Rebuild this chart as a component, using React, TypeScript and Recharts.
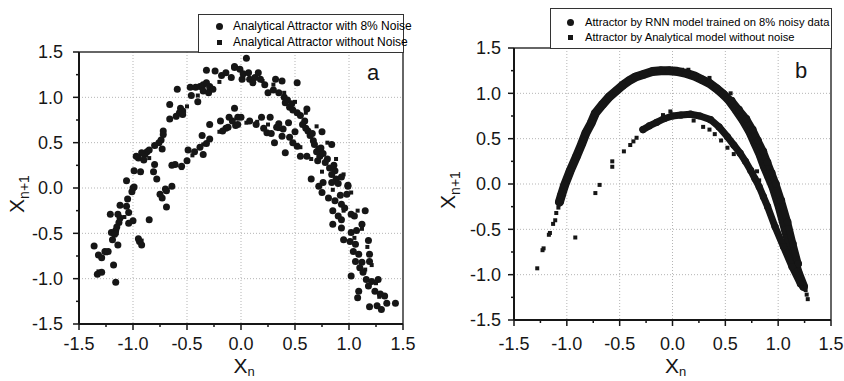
import React from 'react'
import {
  ScatterChart,
  Scatter,
  XAxis,
  YAxis,
  CartesianGrid,
  ReferenceLine,
} from 'recharts'

type Pt = [number, number]

// panel a, noisy attractor (circles)
const aNoisyUpperLeft: Pt[] = [
  [0.05, 1.43], [-0.32, 1.3], [-0.24, 1.29], [-0.18, 1.24], [-0.14, 1.27], [-0.06, 1.33],
  [-0.09, 1.22], [0.01, 1.2], [-0.47, 1.11], [-0.42, 1.11], [-0.38, 1.12], [-0.35, 1.14],
  [-0.32, 1.16], [-0.29, 1.12], [-0.35, 1.07], [-0.3, 1.05], [-0.26, 1.09], [-0.59, 1.09],
  [-0.4, 0.95], [-0.46, 1.02], [-0.66, 0.92], [-0.56, 0.88], [-0.54, 0.85], [-0.57, 0.83],
  [-0.6, 0.79], [-0.54, 0.81], [-0.66, 0.76], [-0.72, 0.63], [-0.72, 0.59], [-0.74, 0.53],
  [-0.76, 0.5], [-0.73, 0.43], [-0.8, 0.47], [-0.85, 0.42], [-0.87, 0.4], [-0.89, 0.37],
  [-0.92, 0.39], [-0.95, 0.33], [-0.97, 0.35], [-0.9, 0.31], [-0.8, 0.26], [-0.81, 0.18],
  [-0.99, 0.19], [-0.93, 0.18], [-0.78, 0.1], [-1.06, 0.08], [-1.0, 0.0], [-0.7, -0.01],
  [-0.64, 0.02],
]
const aNoisyInner: Pt[] = [
  [-0.06, 0.88], [-0.03, 0.78], [-0.08, 0.74], [-0.11, 0.78], [-0.19, 0.74], [-0.14, 0.66],
  [-0.17, 0.63], [-0.12, 0.67], [-0.05, 0.69], [-0.29, 0.7], [-0.36, 0.58], [-0.29, 0.54],
  [-0.32, 0.49], [-0.38, 0.45], [-0.35, 0.37], [-0.43, 0.4], [-0.49, 0.42], [-0.5, 0.3],
  [-0.55, 0.24], [-0.61, 0.26], [-0.64, 0.25], [0.0, 0.78], [-0.03, 0.7], [0.08, 0.74],
  [0.19, 0.78], [0.27, 0.78], [0.24, 0.61], [0.33, 0.67], [0.35, 0.71], [0.39, 0.65],
  [0.44, 0.72], [0.31, 0.5], [0.38, 0.57], [0.41, 0.39], [0.45, 0.56], [0.52, 0.46],
  [0.55, 0.35], [0.61, 0.35], [0.14, 0.7], [0.21, 0.66], [0.28, 0.6], [0.48, 0.5], [0.5, 0.62],
]
const aNoisyUpperRight: Pt[] = [
  [-0.06, 1.34], [-0.01, 1.31], [0.02, 1.26], [0.07, 1.27], [0.08, 1.2], [0.13, 1.22],
  [0.16, 1.27], [0.18, 1.2], [0.11, 1.16], [0.22, 1.14], [0.32, 1.2], [0.38, 1.18],
  [0.52, 1.16], [0.25, 1.05], [0.35, 1.05], [0.3, 1.08], [0.41, 0.94], [0.45, 0.89],
  [0.52, 0.83], [0.61, 0.87], [0.59, 0.74], [0.62, 0.63], [0.75, 0.62], [0.67, 0.52],
  [0.72, 0.43], [0.84, 0.48], [0.73, 0.35], [0.78, 0.28], [0.87, 0.19], [0.99, 0.02],
  [0.65, 0.1], [0.76, 0.06], [0.4, 1.0], [0.43, 0.97], [0.47, 0.93], [0.48, 0.86],
  [0.55, 0.8], [0.57, 0.7], [0.6, 0.66], [0.64, 0.58], [0.66, 0.6], [0.68, 0.48],
  [0.7, 0.4], [0.74, 0.44], [0.76, 0.38], [0.71, 0.3], [0.8, 0.32], [0.82, 0.22],
  [0.84, 0.15], [0.88, 0.1], [0.9, 0.05], [0.86, 0.25], [0.93, 0.12],
]
const aNoisyLowerLeft: Pt[] = [
  [-0.99, 0.01], [-1.01, -0.04], [-0.75, -0.07], [-0.73, -0.11], [-0.69, -0.03], [-0.69, -0.21],
  [-1.05, -0.12], [-1.12, -0.19], [-1.06, -0.2], [-1.21, -0.29], [-1.14, -0.29], [-1.04, -0.27],
  [-1.0, -0.36], [-1.04, -0.39], [-1.12, -0.33], [-1.13, -0.38], [-1.15, -0.43], [-1.16, -0.47],
  [-0.85, -0.35], [-1.2, -0.49], [-1.17, -0.51], [-1.19, -0.57], [-1.14, -0.63], [-0.95, -0.56],
  [-0.94, -0.59], [-0.92, -0.63], [-1.36, -0.64], [-1.32, -0.74], [-1.29, -0.77], [-1.26, -0.7],
  [-1.23, -0.7], [-1.18, -0.85], [-1.33, -0.95], [-1.29, -0.93], [-1.16, -1.04],
]
const aNoisyLowerRight: Pt[] = [
  [0.72, 0.02], [0.84, 0.06], [0.99, 0.03], [0.75, -0.05], [0.81, -0.11], [0.92, -0.08],
  [0.98, -0.07], [0.87, -0.14], [0.93, -0.18], [0.96, -0.22], [0.85, -0.25], [0.9, -0.31],
  [0.93, -0.35], [1.02, -0.29], [1.05, -0.31], [1.15, -0.25], [0.85, -0.4], [0.93, -0.44],
  [1.12, -0.4], [1.02, -0.49], [1.07, -0.47], [0.95, -0.57], [1.01, -0.59], [1.06, -0.62],
  [1.18, -0.58], [1.04, -0.7], [1.09, -0.73], [1.19, -0.73], [1.06, -0.81], [1.12, -0.82],
  [1.19, -0.81], [1.1, -0.88], [1.13, -0.93], [1.02, -0.97], [1.16, -1.01], [1.21, -1.03],
  [1.27, -1.01], [1.18, -1.08], [1.24, -1.14], [1.29, -1.17], [1.09, -1.14], [1.08, -1.21],
  [1.33, -1.19], [1.35, -1.27], [1.19, -1.31], [1.3, -1.34], [1.26, -1.3], [1.43, -1.27],
]

// panel a, attractor without noise (squares)
const aClean: Pt[] = [
  [-1.0, 0.0], [-0.93, 0.17], [-0.85, 0.33], [-0.79, 0.46], [-0.72, 0.58], [-0.6, 0.78],
  [-0.5, 0.9], [-0.4, 1.02], [-0.3, 1.1], [-0.2, 1.17], [-0.1, 1.22], [0.02, 1.23],
  [0.12, 1.22], [0.2, 1.18], [0.3, 1.14], [0.4, 1.05], [0.5, 0.95], [0.6, 0.83],
  [0.7, 0.68], [0.8, 0.5], [0.88, 0.32], [0.95, 0.15], [1.02, -0.05], [1.08, -0.25],
  [1.12, -0.45], [1.17, -0.65], [1.21, -0.85], [1.25, -1.05], [1.28, -1.2],
  [-1.15, -0.5], [-1.08, -0.32], [-0.7, -0.03], [-0.55, 0.22], [-0.45, 0.36], [-0.35, 0.48],
  [-0.2, 0.62], [-0.05, 0.7], [0.05, 0.72], [0.15, 0.73], [0.25, 0.7], [0.35, 0.65],
  [0.45, 0.56], [0.55, 0.45], [0.65, 0.32], [0.75, 0.18], [0.85, -0.02], [0.95, -0.25],
  [1.05, -0.55], [1.15, -0.9], [-1.25, -0.72], [-1.32, -0.92], [-0.92, -0.58],
]

// panel b, RNN attractor (circles, dense bands)
const bRnnUpper: Pt[] = [
  [-1.07, -0.2], [-1.05, -0.12], [-1.02, -0.01], [-0.97, 0.14], [-0.91, 0.3], [-0.86, 0.44],
  [-0.82, 0.56], [-0.77, 0.67], [-0.73, 0.78], [-0.66, 0.88], [-0.6, 0.96], [-0.53, 1.03],
  [-0.47, 1.09], [-0.41, 1.14], [-0.35, 1.18], [-0.27, 1.21], [-0.19, 1.24], [-0.11, 1.25],
  [-0.03, 1.25], [0.05, 1.24], [0.13, 1.22], [0.21, 1.19], [0.28, 1.15], [0.35, 1.11],
  [0.42, 1.05], [0.48, 0.99], [0.53, 0.93], [0.6, 0.82], [0.67, 0.7], [0.73, 0.58],
  [0.78, 0.45], [0.83, 0.32], [0.87, 0.19], [0.91, 0.08], [0.95, -0.03], [1.01, -0.25],
  [1.07, -0.51], [1.13, -0.76], [1.19, -0.98], [1.24, -1.13],
]
const bRnnUpperOuter: Pt[] = [
  [0.56, 0.92], [0.63, 0.82], [0.7, 0.72], [0.76, 0.6], [0.81, 0.48], [0.86, 0.36],
  [0.9, 0.24], [0.94, 0.12], [0.98, 0.0], [1.03, -0.18], [1.09, -0.42], [1.14, -0.66],
  [1.19, -0.88],
]
const bRnnLower: Pt[] = [
  [-0.28, 0.6], [-0.22, 0.64], [-0.15, 0.68], [-0.08, 0.72], [0.0, 0.75], [0.08, 0.76],
  [0.17, 0.77], [0.26, 0.75], [0.36, 0.71], [0.44, 0.63], [0.52, 0.52], [0.58, 0.43],
  [0.64, 0.34], [0.69, 0.25], [0.74, 0.15], [0.78, 0.06], [0.82, -0.03], [0.86, -0.14],
  [0.9, -0.25], [0.97, -0.47], [1.05, -0.69], [1.13, -0.91], [1.21, -1.1],
]

// panel b, analytical model without noise (squares)
const bClean: Pt[] = [
  [-1.28, -0.93], [-1.23, -0.73], [-1.22, -0.71], [-1.17, -0.56], [-1.16, -0.54], [-1.13, -0.44],
  [-1.11, -0.4], [-1.1, -0.32], [-1.08, -0.26], [-0.92, -0.59], [-0.73, -0.1], [-0.69, -0.01],
  [-0.57, 0.25], [-0.57, 0.19], [-0.46, 0.36], [-0.4, 0.43], [-0.37, 0.47], [-0.34, 0.51],
  [-0.09, 0.76], [-0.02, 0.8], [0.2, 0.7], [0.29, 0.63], [0.35, 0.6], [0.4, 0.55],
  [0.46, 0.48], [0.52, 0.4], [0.58, 0.33], [0.8, 0.14], [0.82, 0.04], [-0.04, 1.27],
  [0.03, 1.27], [0.09, 1.26], [0.15, 1.26], [0.35, 1.17], [0.55, 1.0], [1.26, -1.17],
  [1.27, -1.22], [1.28, -1.27], [1.22, -1.1],
]

const TICKS = [-1.5, -1.25, -1, -0.75, -0.5, -0.25, 0, 0.25, 0.5, 0.75, 1, 1.25, 1.5]
const GRID = [-1, -0.5, 0, 0.5, 1]

const INK = '#161616'
const FONT = '"Liberation Sans", Arial, sans-serif'

const toData = (pts: Pt[]) => pts.map(([x, y]) => ({ x, y }))
const isMajor = (v: number) => Math.abs(v * 2 - Math.round(v * 2)) < 1e-6

const dot = (r: number) => (p: any) => <circle cx={p.cx} cy={p.cy} r={r} fill={INK} />
const box = (s: number) => (p: any) => (
  <rect x={p.cx - s / 2} y={p.cy - s / 2} width={s} height={s} fill={INK} />
)

const YTick = ({ x, y, payload, gap }: any) => {
  const major = isMajor(payload.value)
  return (
    <g>
      <line x1={x} x2={x - (major ? 6 : 3)} y1={y} y2={y} stroke={INK} strokeWidth={1.5} />
      {major && (
        <text x={x - gap} y={y} dy="0.36em" textAnchor="end" fontSize={18} fontFamily={FONT} fill={INK}>
          {payload.value.toFixed(1)}
        </text>
      )}
    </g>
  )
}

const XTick = ({ x, y, payload, gap }: any) => {
  const major = isMajor(payload.value)
  return (
    <g>
      <line x1={x} x2={x} y1={y} y2={y + (major ? 6 : 3)} stroke={INK} strokeWidth={1.5} />
      {major && (
        <text x={x} y={y + gap} textAnchor="middle" fontSize={18} fontFamily={FONT} fill={INK}>
          {payload.value.toFixed(1)}
        </text>
      )}
    </g>
  )
}

const YLabel = ({ viewBox, dx }: any) => {
  const cx = viewBox.x + dx
  const cy = viewBox.y + viewBox.height / 2 + 6
  return (
    <text x={cx} y={cy} transform={`rotate(-90 ${cx} ${cy})`} textAnchor="middle" fontSize={21} fontFamily={FONT} fill={INK}>
      X<tspan fontSize={14} dy={5}>n+1</tspan>
    </text>
  )
}

const XLabel = ({ viewBox, dy }: any) => {
  const cx = viewBox.x + viewBox.width / 2 + 3
  return (
    <text x={cx} y={viewBox.y + dy} textAnchor="middle" fontSize={21} fontFamily={FONT} fill={INK}>
      X<tspan fontSize={13} dy={3}>n</tspan>
    </text>
  )
}

function Panel(props: {
  margin: any
  yWidth: number
  yGap: number
  xGap: number
  yLabelDx: number
  xLabelDy: number
  children: React.ReactNode
}) {
  const { margin, yWidth, yGap, xGap, yLabelDx, xLabelDy, children } = props
  return (
    <ScatterChart width={422} height={381} margin={margin}>
      <CartesianGrid stroke="#b5b5b5" strokeDasharray="1 2" horizontalValues={GRID} verticalValues={GRID} />
      <XAxis
        type="number"
        dataKey="x"
        domain={[-1.5, 1.5]}
        ticks={TICKS}
        interval={0}
        height={50}
        tickSize={0}
        tickMargin={0}
        tickLine={false}
        axisLine={{ stroke: INK, strokeWidth: 2 }}
        tick={(p: any) => <XTick {...p} gap={xGap} />}
        label={{ content: (p: any) => <XLabel {...p} dy={xLabelDy} /> }}
      />
      <YAxis
        type="number"
        dataKey="y"
        domain={[-1.5, 1.5]}
        ticks={TICKS}
        interval={0}
        width={yWidth}
        tickSize={0}
        tickMargin={0}
        tickLine={false}
        axisLine={{ stroke: INK, strokeWidth: 2 }}
        tick={(p: any) => <YTick {...p} gap={yGap} />}
        label={{ content: (p: any) => <YLabel {...p} dx={yLabelDx} /> }}
      />
      <ReferenceLine y={1.5} stroke="#333" strokeWidth={1.5} />
      <ReferenceLine x={1.5} stroke="#333" strokeWidth={1.5} />
      {children}
    </ScatterChart>
  )
}

function Legend(props: {
  left: number
  top: number
  width: number
  height: number
  fontSize: number
  rows: [string, boolean, number][]
  markX: number
  textX: number
}) {
  const { left, top, width, height, fontSize, rows, markX, textX } = props
  return (
    <div
      style={{
        position: 'absolute',
        left,
        top,
        width,
        height,
        border: '1px solid #333',
        background: '#fff',
        boxSizing: 'border-box',
        fontFamily: FONT,
        fontSize,
        color: '#000',
      }}
    >
      {rows.map(([text, square, y]) => (
        <React.Fragment key={text}>
          <div
            style={{
              position: 'absolute',
              left: markX - (square ? 2.5 : 3.5),
              top: y - (square ? 2.5 : 3.5),
              width: square ? 5 : 7,
              height: square ? 5 : 7,
              borderRadius: square ? 0 : '50%',
              background: INK,
            }}
          />
          <div style={{ position: 'absolute', left: textX, top: y - 7, lineHeight: '14px', whiteSpace: 'nowrap' }}>
            {text}
          </div>
        </React.Fragment>
      ))}
    </div>
  )
}

export default function App() {
  return (
    <div style={{ position: 'absolute', left: 0, top: 0, width: 844, height: 381, background: '#fff' }}>
      <div style={{ position: 'absolute', left: 0, top: 0 }}>
        <Panel
          margin={{ top: 52, right: 19, bottom: 7, left: 9 }}
          yWidth={70}
          yGap={16}
          xGap={26}
          yLabelDx={15}
          xLabelDy={49}
        >
          <Scatter data={toData(aClean)} shape={box(4)} isAnimationActive={false} />
          <Scatter data={toData(aNoisyUpperLeft)} shape={dot(3.5)} isAnimationActive={false} />
          <Scatter data={toData(aNoisyInner)} shape={dot(3.5)} isAnimationActive={false} />
          <Scatter data={toData(aNoisyUpperRight)} shape={dot(3.5)} isAnimationActive={false} />
          <Scatter data={toData(aNoisyLowerLeft)} shape={dot(3.5)} isAnimationActive={false} />
          <Scatter data={toData(aNoisyLowerRight)} shape={dot(3.5)} isAnimationActive={false} />
        </Panel>
        <div style={{ position: 'absolute', left: 367, top: 60, fontFamily: FONT, fontSize: 22, color: INK }}>a</div>
        <Legend
          left={198}
          top={14}
          width={206}
          height={39}
          fontSize={12}
          markX={20}
          textX={34}
          rows={[
            ['Analytical Attractor with 8% Noise', false, 11],
            ['Analytical Attractor without  Noise', true, 27],
          ]}
        />
      </div>
      <div style={{ position: 'absolute', left: 422, top: 0, width: 422, height: 381 }}>
        <Panel
          margin={{ top: 48, right: 13, bottom: 11, left: 9 }}
          yWidth={83}
          yGap={13}
          xGap={30}
          yLabelDx={24}
          xLabelDy={53}
        >
          <Scatter
            data={toData(bRnnUpper)}
            line={{ stroke: INK, strokeWidth: 9, strokeLinecap: 'round', strokeLinejoin: 'round' }}
            lineType="joint"
            shape={dot(4.2)}
            isAnimationActive={false}
          />
          <Scatter
            data={toData(bRnnUpperOuter)}
            line={{ stroke: INK, strokeWidth: 7, strokeLinecap: 'round', strokeLinejoin: 'round' }}
            lineType="joint"
            shape={dot(3.8)}
            isAnimationActive={false}
          />
          <Scatter
            data={toData(bRnnLower)}
            line={{ stroke: INK, strokeWidth: 7, strokeLinecap: 'round', strokeLinejoin: 'round' }}
            lineType="joint"
            shape={dot(3.6)}
            isAnimationActive={false}
          />
          <Scatter data={toData(bClean)} shape={box(4)} isAnimationActive={false} />
        </Panel>
        <div style={{ position: 'absolute', left: 373, top: 58, fontFamily: FONT, fontSize: 22, color: INK }}>b</div>
        <Legend
          left={128}
          top={8}
          width={282}
          height={41}
          fontSize={11.2}
          markX={19}
          textX={34}
          rows={[
            ['Attractor by RNN model trained on 8% noisy data', false, 13],
            ['Attractor by Analytical model without noise', true, 28],
          ]}
        />
      </div>
    </div>
  )
}
